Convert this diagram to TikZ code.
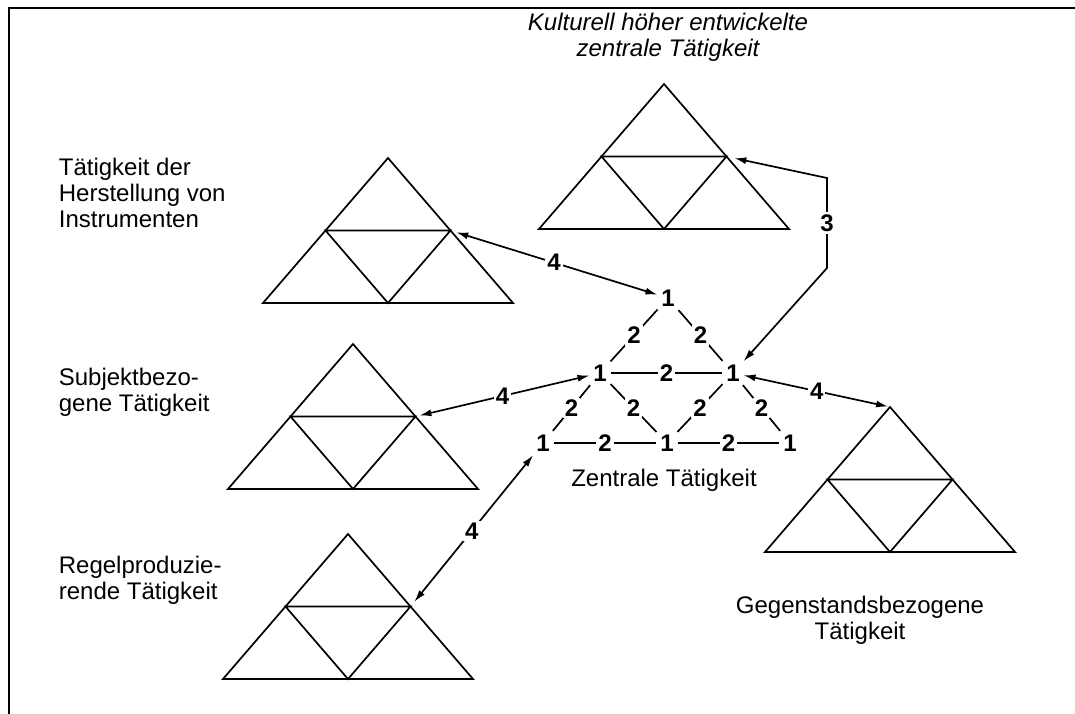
\documentclass[tikz,border=0pt]{standalone}
\usepackage{fontspec}
\setmainfont{Liberation Sans}
\usetikzlibrary{arrows.meta}

\tikzset{
	txt/.style={font=\fontsize{12}{13}\selectfont, inner sep=0pt},
	num/.style={font=\fontsize{12}{13}\selectfont\bfseries, inner sep=1.5pt},
	lbl/.style={font=\fontsize{12}{13}\selectfont\bfseries, fill=white, inner sep=1pt},
	arr/.style={{Latex[length=6pt,width=3.5pt]}-{Latex[length=6pt,width=3.5pt]}}
}

\begin{document}
\begin{tikzpicture}[x=0.5pt,y=-0.5pt,line width=0.85pt]
	\useasboundingbox (0,0) rectangle (1075,713);
	\draw[line width=1.3pt] (9,740) -- (9,8) -- (1100,8);
	% kleine Dreiecke
	\foreach \ax/\ay/\n in {388/158/inst,664/84/kult,890/407/gegen,353/344/subj,348/534/regel}
	{
		\draw (\ax,\ay) -- (\ax-125,\ay+145) -- (\ax+125,\ay+145) -- cycle;
		\draw (\ax-62.5,\ay+72.5) -- (\ax+62.5,\ay+72.5) -- (\ax,\ay+145) -- cycle;
		\coordinate (\n-r) at (\ax+62.5,\ay+72.5);
		\coordinate (\n-top) at (\ax,\ay);
	}
	% zentrale Taetigkeit
	\node[num] (t) at (668,298) {1};
	\node[num] (l) at (600,373) {1};
	\node[num] (r) at (733,373) {1};
	\node[num] (bl) at (543,443) {1};
	\node[num] (bm) at (667,443) {1};
	\node[num] (br) at (790,443) {1};
	\foreach \a/\b in {t/l,t/r,l/r,l/bl,l/bm,r/bm,r/br,bl/bm,bm/br}
		\draw (\a) -- node[lbl] {2} (\b);
	% Pfeile
	\coordinate (k1) at (827,178);
	\coordinate (k2) at (827,268);
	\draw[arr,shorten <=4pt] (kult-r) -- (k1) -- node[lbl] {3} (k2) -- (r);
	\draw[arr,shorten <=3pt] (inst-r) -- node[lbl] {4} (t);
	\draw[arr,shorten >=1pt] (r) -- node[lbl] {4} (gegen-top);
	\draw[arr,shorten <=2pt] (subj-r) -- node[lbl] {4} (l);
	\draw[arr,shorten <=3pt] (regel-r) -- node[lbl] {4} (bl);
	% Beschriftungen
	\node[txt,align=center,font=\fontsize{12}{13}\selectfont\itshape] (kultl) at (668,37) {Kulturell höher entwickelte\\zentrale Tätigkeit};
	\node[txt,align=left,anchor=west] (instl) at (58,193) {Tätigkeit der\\Herstellung von\\Instrumenten};
	\node[txt,align=left,anchor=west] (subjl) at (58,392) {Subjektbezo-\\gene Tätigkeit};
	\node[txt,align=left,anchor=west] (regell) at (58,580) {Regelproduzie-\\rende Tätigkeit};
	\node[txt] (zentl) at (664,480) {Zentrale Tätigkeit};
	\node[txt,align=center] (gegenl) at (860,620) {Gegenstandsbezogene\\Tätigkeit};
\end{tikzpicture}
\end{document}
